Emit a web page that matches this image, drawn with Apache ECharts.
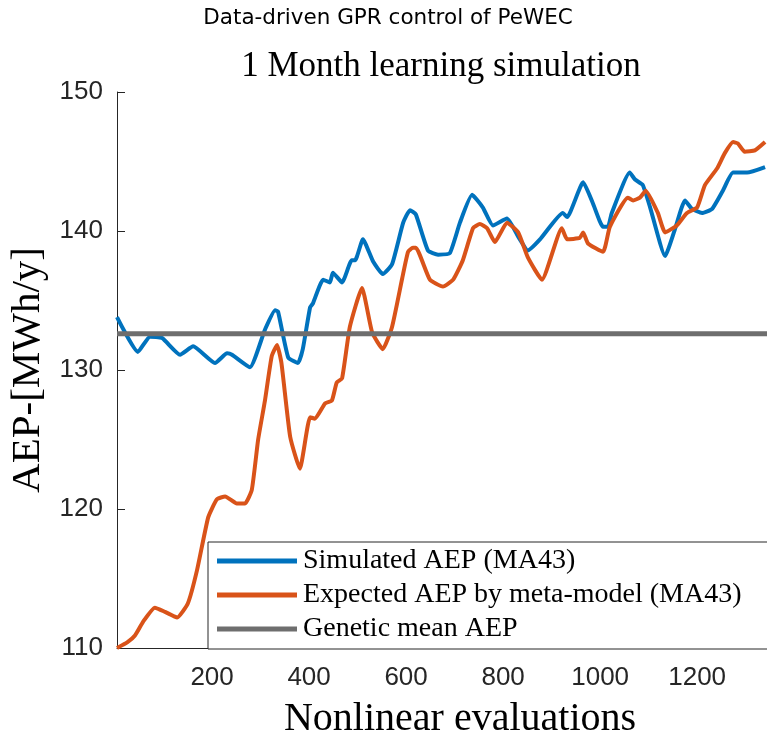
<!DOCTYPE html>
<html>
<head>
<meta charset="utf-8">
<script src="https://cdn.jsdelivr.net/npm/echarts@6/dist/echarts.min.js"></script>
<style>
  html, body { margin: 0; padding: 0; background: #fff; }
  #chart { width: 767px; height: 742px; }
</style>
</head>
<body>
<div id="chart"></div>
<script>
// [evaluations, AEP]
const simulatedAEP = [
  [4, 133.8], [47, 131.3], [72, 132.4], [97, 132.3], [134, 131.1], [161, 131.7],
  [206, 130.5], [231, 131.2], [241, 131.1], [278, 130.2], [309, 132.9], [330, 134.3],
  [336, 134.2], [357, 130.9], [377, 130.5], [387, 131.5], [402, 134.5], [408, 134.8],
  [429, 136.5], [443, 136.3], [449, 137.0], [468, 136.3], [488, 137.9], [495, 137.9],
  [511, 139.4], [532, 137.8], [552, 136.9], [571, 137.6], [594, 140.6], [608, 141.5],
  [620, 141.2], [645, 138.6], [666, 138.3], [690, 138.4], [711, 140.6], [736, 142.6],
  [758, 141.7], [779, 140.4], [808, 140.9], [831, 139.6], [851, 138.6], [876, 139.4],
  [923, 141.3], [932, 141.0], [965, 143.5], [985, 142.0], [1006, 140.3], [1016, 140.3],
  [1024, 141.3], [1061, 144.2], [1072, 143.7], [1088, 143.3], [1103, 141.7], [1134, 138.2],
  [1154, 140.1], [1175, 142.2], [1189, 141.6], [1210, 141.3], [1231, 141.6], [1253, 142.9],
  [1274, 144.2], [1303, 144.2], [1340, 144.6]
];

const expectedAEP = [
  [4, 110.0], [25, 110.4], [41, 110.9], [58, 111.9], [82, 112.9], [103, 112.6],
  [128, 112.2], [150, 113.2], [169, 115.6], [192, 119.4], [210, 120.7], [227, 120.9],
  [251, 120.4], [268, 120.4], [282, 121.4], [295, 125.0], [309, 127.8], [323, 131.0],
  [334, 131.8], [343, 130.5], [361, 125.2], [381, 122.9], [402, 126.6], [412, 126.5],
  [433, 127.6], [447, 127.8], [457, 129.1], [468, 129.4], [484, 133.1], [509, 135.9],
  [530, 132.7], [552, 131.5], [571, 133.1], [592, 136.6], [604, 138.5], [614, 138.8],
  [620, 138.8], [649, 136.5], [676, 136.0], [697, 136.5], [717, 137.9], [738, 140.2],
  [752, 140.5], [767, 140.2], [783, 139.2], [808, 140.6], [831, 139.9], [851, 138.1],
  [880, 136.5], [921, 140.2], [932, 139.4], [958, 139.5], [965, 139.9], [975, 139.1],
  [1006, 138.5], [1020, 140.3], [1057, 142.4], [1068, 142.2], [1082, 142.4], [1094, 142.9],
  [1119, 141.3], [1134, 139.9], [1158, 140.4], [1179, 141.3], [1200, 141.7], [1216, 143.3],
  [1241, 144.5], [1257, 145.6], [1274, 146.4], [1284, 146.3], [1298, 145.7], [1319, 145.8],
  [1340, 146.4]
];

const geneticMeanAEP = [[4, 132.6], [1344, 132.6]];

const xTicks = [200, 400, 600, 800, 1000, 1200];
const seriesNames = [
  'Simulated AEP (MA43)',
  'Expected AEP by meta-model (MA43)',
  'Genetic mean AEP'
];
const seriesColors = ['#0072BD', '#D95319', '#6E6E6E'];

const axisColor = '#262626';
const serif = '"Liberation Serif", "Times New Roman", serif';
const sans = '"Liberation Sans", Arial, sans-serif';

const chart = echarts.init(document.getElementById('chart'));

chart.setOption({
  animation: false,
  backgroundColor: '#fff',
  graphic: [
    {
      type: 'text',
      style: {
        x: 388, y: 18, text: 'Data-driven GPR control of PeWEC',
        font: '21.5px "DejaVu Sans", sans-serif', fill: '#000',
        textAlign: 'center', textVerticalAlign: 'middle'
      }
    },
    {
      type: 'text',
      style: {
        x: 441, y: 67, text: '1 Month learning simulation',
        font: '35px ' + serif, fill: '#000',
        textAlign: 'center', textVerticalAlign: 'middle'
      }
    }
  ],
  grid: { left: 117, right: 0, top: 92, bottom: 94, outerBoundsMode: 'none' },
  legend: {
    orient: 'vertical',
    left: 208,
    top: 542,
    padding: [5, 40, 6, 9],
    itemGap: 6,
    itemWidth: 80,
    itemHeight: 5,
    icon: 'rect',
    backgroundColor: '#fff',
    borderColor: axisColor,
    borderWidth: 1,
    borderRadius: 0,
    textStyle: { fontFamily: serif, fontSize: 28, color: '#000', padding: [0, 0, 0, 1] },
    data: seriesNames
  },
  xAxis: {
    type: 'value',
    min: 4,
    max: 1344,
    name: 'Nonlinear evaluations',
    nameLocation: 'middle',
    nameGap: 51,
    nameTextStyle: { fontFamily: serif, fontSize: 40, color: '#000', padding: [0, 0, 0, 36] },
    axisLine: { lineStyle: { color: axisColor, width: 1 } },
    axisTick: { inside: true, length: 8, lineStyle: { color: axisColor }, customValues: xTicks },
    axisLabel: {
      customValues: xTicks, fontFamily: sans, fontSize: 26, color: axisColor, margin: 17,
      formatter: (v) => String(v)
    },
    splitLine: { show: false }
  },
  yAxis: {
    type: 'value',
    min: 110,
    max: 150,
    interval: 10,
    name: 'AEP-[MWh/y]',
    nameLocation: 'middle',
    nameGap: 67,
    nameTextStyle: { fontFamily: serif, fontSize: 41, color: '#000' },
    axisLine: { show: true, lineStyle: { color: axisColor, width: 1 } },
    axisTick: { show: true, inside: true, length: 8, lineStyle: { color: axisColor } },
    axisLabel: { fontFamily: sans, fontSize: 26, color: axisColor, margin: 14 },
    splitLine: { show: false }
  },
  series: [
    {
      name: seriesNames[0], type: 'line', data: simulatedAEP,
      showSymbol: false, smooth: 0.15, color: seriesColors[0],
      lineStyle: { width: 4, color: seriesColors[0] }
    },
    {
      name: seriesNames[1], type: 'line', data: expectedAEP,
      showSymbol: false, smooth: 0.15, color: seriesColors[1],
      lineStyle: { width: 4, color: seriesColors[1] }
    },
    {
      name: seriesNames[2], type: 'line', data: geneticMeanAEP,
      showSymbol: false, color: seriesColors[2],
      lineStyle: { width: 5, color: seriesColors[2] }
    }
  ]
});
</script>
</body>
</html>
